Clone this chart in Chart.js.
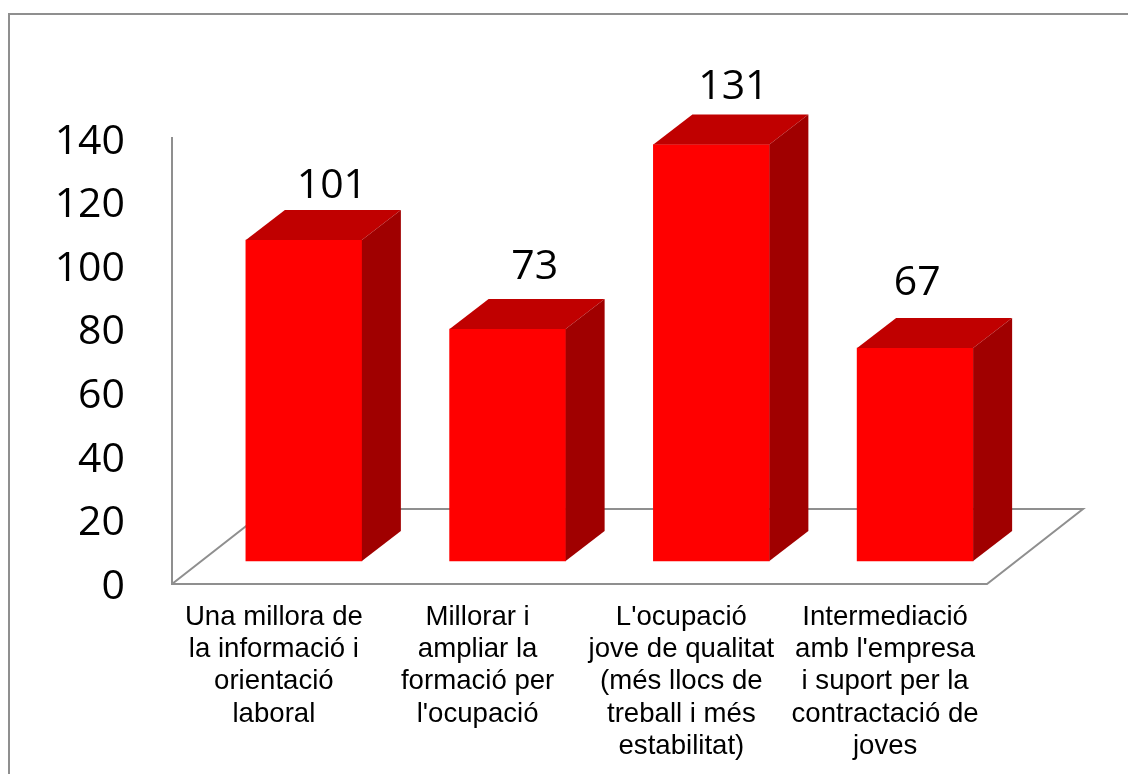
<!DOCTYPE html>
<html lang="ca">
<head>
    <meta charset="UTF-8">
    <title>Prioritats d'ocupació juvenil</title>
    <script src="https://cdn.jsdelivr.net/npm/chart.js"></script>
    <style>
        body { margin: 0; background: white; overflow: hidden; }
        canvas { display: block; }
    </style>
</head>
<body>
    <canvas id="chart" width="1128" height="774"></canvas>

    <script>
        const categories = [
            ['Una millora de', 'la informació i', 'orientació', 'laboral'],
            ['Millorar i', 'ampliar la', 'formació per', "l'ocupació"],
            ["L'ocupació", 'jove de qualitat', '(més llocs de', 'treball i més', 'estabilitat)'],
            ['Intermediació', "amb l'empresa", 'i suport per la', 'contractació de', 'joves']
        ];
        const values = [101, 73, 131, 67];

        // label nudges from the top-back edge of each bar
        const labelNudgeX = [-11, -12, -17, -37];
        const labelNudgeY = [-24, -32, -27, -35];

        const GREY = '#8f8f8f';
        const LABEL_FONT = '41px "Open Sans"';

        // 3D look: bars sit in from the front of the floor, depth goes up and right
        const barShift = { x: 30, y: -23 };
        const barDepth = { x: 39, y: -30 };
        const floorDepth = { x: 96, y: -75 };

        function greyLine(ctx, points) {
            ctx.beginPath();
            points.forEach((p, i) => i ? ctx.lineTo(p[0], p[1]) : ctx.moveTo(p[0], p[1]));
            ctx.strokeStyle = GREY;
            ctx.lineWidth = 2;
            ctx.stroke();
        }

        const bar3d = {
            id: 'bar3d',
            beforeDatasetsDraw(chart) {
                const ctx = chart.ctx;
                const a = chart.chartArea;
                ctx.save();
                // frame of the picture, right and bottom edges are cut off
                greyLine(ctx, [[9, 774], [9, 14], [1128, 14]]);
                // wall and floor
                greyLine(ctx, [[a.left, a.top - 2], [a.left, a.bottom], [a.right, a.bottom],
                    [a.right + floorDepth.x, a.bottom + floorDepth.y],
                    [a.left + floorDepth.x, a.bottom + floorDepth.y], [a.left, a.bottom]]);
                ctx.restore();
            },
            beforeDatasetDraw(chart) {
                chart.ctx.save();
                chart.ctx.translate(barShift.x, barShift.y);
            },
            afterDatasetDraw(chart) {
                const ctx = chart.ctx;
                chart.getDatasetMeta(0).data.forEach(bar => {
                    const left = bar.x - bar.width / 2;
                    const right = bar.x + bar.width / 2;
                    ctx.fillStyle = '#c00000';
                    ctx.beginPath();
                    ctx.moveTo(left, bar.y);
                    ctx.lineTo(left + barDepth.x, bar.y + barDepth.y);
                    ctx.lineTo(right + barDepth.x, bar.y + barDepth.y);
                    ctx.lineTo(right, bar.y);
                    ctx.closePath();
                    ctx.fill();
                    ctx.fillStyle = '#a00000';
                    ctx.beginPath();
                    ctx.moveTo(right, bar.y);
                    ctx.lineTo(right + barDepth.x, bar.y + barDepth.y);
                    ctx.lineTo(right + barDepth.x, bar.base + barDepth.y);
                    ctx.lineTo(right, bar.base);
                    ctx.closePath();
                    ctx.fill();
                });
                ctx.restore();
            },
            afterDatasetsDraw(chart) {
                const ctx = chart.ctx;
                ctx.save();
                ctx.font = LABEL_FONT;
                ctx.fillStyle = 'black';
                ctx.textAlign = 'center';
                ctx.textBaseline = 'middle';
                chart.getDatasetMeta(0).data.forEach((bar, i) => {
                    const x = bar.x + barShift.x + barDepth.x + labelNudgeX[i];
                    const y = bar.y + barShift.y + barDepth.y + labelNudgeY[i];
                    ctx.fillText(values[i], x, y);
                });
                ctx.restore();
            }
        };

        new Chart(document.getElementById('chart'), {
            type: 'bar',
            data: {
                labels: categories,
                datasets: [{
                    data: values,
                    backgroundColor: '#ff0000',
                    borderWidth: 0,
                    barThickness: 116,
                    clip: false
                }]
            },
            options: {
                responsive: false,
                animation: false,
                events: [],
                layout: { padding: { top: 139, right: 141 } },
                plugins: { legend: { display: false }, tooltip: { enabled: false } },
                scales: {
                    x: {
                        grid: { display: false },
                        border: { display: false },
                        afterFit(scale) { scale.height = 190; },
                        ticks: {
                            color: 'black',
                            maxRotation: 0,
                            autoSkip: false,
                            padding: 9,
                            font: { family: '"Liberation Sans"', size: 27.6, lineHeight: 1.17 }
                        }
                    },
                    y: {
                        min: 0,
                        max: 140,
                        grid: { display: false },
                        border: { display: false },
                        afterFit(scale) { scale.width = 172; },
                        ticks: {
                            stepSize: 20,
                            color: 'black',
                            padding: 39,
                            labelOffset: 3,
                            font: { family: '"Open Sans"', size: 41 }
                        }
                    }
                }
            },
            plugins: [bar3d]
        });
    </script>
</body>
</html>
